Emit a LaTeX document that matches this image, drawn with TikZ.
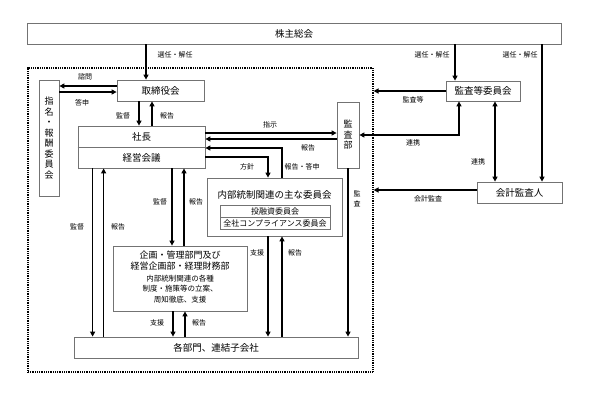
\documentclass[tikz,border=0pt]{standalone}
\usepackage{fontspec}
\setmainfont{Noto Sans CJK JP}
\usetikzlibrary{arrows.meta}
\begin{document}
\begin{tikzpicture}[x=1pt,y=-1pt,
  box/.style={draw=black!55, line width=0.8pt, inner sep=0pt, font=\fontsize{9.5}{11}\selectfont},
  arr/.style={line width=1.7pt, -{Triangle[length=5pt,width=5pt]}},
  darr/.style={line width=1.7pt, {Triangle[length=5pt,width=5pt]}-{Triangle[length=5pt,width=5pt]}},
  lbl/.style={font=\fontsize{7}{8}\selectfont, inner sep=0pt},
  vtext/.style={align=center, font=\fontsize{9}{10.5}\selectfont}]
\useasboundingbox (0,0) rectangle (609,392);
\fill[white] (0,0) rectangle (609,392);
% frame
\node[draw, line width=1.1pt, dash pattern=on 0.8pt off 1pt, minimum width=345pt, minimum height=304pt, inner sep=0pt] (frame) at (200.5,220) {};
% boxes
\node[box, minimum width=534pt, minimum height=21pt] (sh) at (294,33.5) {株主総会};
\node[box, minimum width=87pt, minimum height=21pt] (bd) at (160.5,90.5) {取締役会};
\node[box, minimum width=20pt, minimum height=116pt, vtext] (nom) at (49,138) {指\\名\\・\\報\\酬\\委\\員\\会};
\node[box, minimum width=127pt, minimum height=42pt] (ceo) at (141.5,147) {};
\draw[draw=black!55, line width=0.8pt] (ceo.west) -- (ceo.east);
\node[font=\fontsize{9.5}{11}\selectfont] (ceoA) at (141.5,137) {社長};
\node[font=\fontsize{9.5}{11}\selectfont] (ceoB) at (141.5,158) {経営会議};
\node[box, minimum width=22pt, minimum height=66pt, vtext] (aud) at (348,135) {監\\査\\部};
\node[box, minimum width=135pt, minimum height=58pt] (ic) at (274.5,207) {};
\node[font=\fontsize{9.5}{11}\selectfont] (icT) at (274.5,195) {内部統制関連の主な委員会};
\node[box, minimum width=110pt, minimum height=12pt, font=\fontsize{8}{9}\selectfont] (ic1) at (275,211) {投融資委員会};
\node[box, minimum width=110pt, minimum height=12pt, font=\fontsize{8}{9}\selectfont] (ic2) at (275,223) {全社コンプライアンス委員会};
\node[box, minimum width=134pt, minimum height=65pt] (plan) at (180,278.5) {};
\node[align=center, font=\fontsize{9}{11}\selectfont] (planA) at (180,260.5) {企画・管理部門及び\\経営企画部・経理財務部};
\node[align=center, font=\fontsize{7.5}{10.5}\selectfont] (planB) at (180,289) {内部統制関連の各種\\制度・施策等の立案、\\周知徹底、支援};
\node[box, minimum width=284pt, minimum height=21pt] (div) at (216,347.5) {各部門、連結子会社};
\node[box, minimum width=74pt, minimum height=20pt] (ac) at (483,91) {監査等委員会};
\node[box, minimum width=85pt, minimum height=21pt] (ext) at (519.5,192.5) {会計監査人};
% arrows
\draw[arr] ([xshift=-14.5pt]bd.north |- sh.south) -- ([xshift=-14.5pt]bd.north);
\draw[arr] ([yshift=4.5pt]bd.west) -- ([yshift=4.5pt]bd.west -| nom.east);
\draw[arr] ([yshift=-1.5pt]bd.west -| nom.east) -- ([yshift=-1.5pt]bd.west);
\draw[arr] ([xshift=-21.5pt]bd.south) -- ([xshift=-21.5pt]bd.south |- ceo.north);
\draw[arr] ([xshift=-8.5pt]bd.south |- ceo.north) -- ([xshift=-8.5pt]bd.south);
\draw[arr] ([yshift=14pt]ceo.east) -- ([yshift=14pt]ceo.east -| aud.west);
\draw[arr] ([yshift=8pt]ceo.east -| aud.west) -- ([yshift=8pt]ceo.east);
\draw[arr] ([xshift=7.5pt]ic.north) |- ([yshift=-1pt]ceo.east);
\draw[arr] ([yshift=-10pt]ceo.east) -| ([xshift=-6.5pt]ic.north);
\draw[arr] (aud.south) -- (aud.south |- div.north);
\draw[arr] ([xshift=15pt]ceo.south west) -- ([xshift=15pt]ceo.south west |- div.north);
\draw[arr] ([xshift=26pt]ceo.south west |- div.north) -- ([xshift=26pt]ceo.south west);
\draw[arr] ([xshift=-8pt]plan.north |- ceo.south) -- ([xshift=-8pt]plan.north);
\draw[arr] ([xshift=4pt]plan.north) -- ([xshift=4pt]plan.north |- ceo.south);
\draw[arr] ([xshift=-7pt]plan.south) -- ([xshift=-7pt]plan.south |- div.north);
\draw[arr] ([xshift=5pt]plan.south |- div.north) -- ([xshift=5pt]plan.south);
\draw[arr] ([xshift=-6.5pt]ic.south) -- ([xshift=-6.5pt]ic.south |- div.north);
\draw[arr] ([xshift=7.5pt]ic.south |- div.north) -- ([xshift=7.5pt]ic.south);
\draw[arr] ([xshift=-28pt]ac.north |- sh.south) -- ([xshift=-28pt]ac.north);
\draw[arr] ([xshift=22.5pt]ext.north |- sh.south) -- ([xshift=22.5pt]ext.north);
\draw[arr] (ac.west) -- (ac.west -| frame.east);
\draw[darr] (aud.east) -| ([xshift=-24pt]ac.south);
\draw[darr] ([xshift=12pt]ac.south) -- ([xshift=12pt]ac.south |- ext.north);
\draw[arr] ([yshift=2.5pt]ext.west) -- ([yshift=2.5pt]ext.west -| frame.east);
% labels
\node[lbl] (l1) at (175,55) {選任・解任};
\node[lbl] (l2) at (432,55) {選任・解任};
\node[lbl] (l3) at (520,55) {選任・解任};
\node[lbl] (l4) at (85,77) {諮問};
\node[lbl] (l5) at (82,103) {答申};
\node[lbl] (l6) at (123,116) {監督};
\node[lbl] (l7) at (167,116) {報告};
\node[lbl] (l8) at (270,125) {指示};
\node[lbl] (l9) at (308,148) {報告};
\node[lbl] (l10) at (247,167) {方針};
\node[lbl] (l11) at (302,167) {報告・答申};
\node[lbl, align=center, font=\fontsize{7}{10}\selectfont] (l12) at (357,199) {監\\査};
\node[lbl] (l13) at (413,100) {監査等};
\node[lbl] (l14) at (413,143) {連携};
\node[lbl] (l15) at (478,162) {連携};
\node[lbl] (l16) at (428,199) {会計監査};
\node[lbl] (l17) at (77,227) {監督};
\node[lbl] (l18) at (118,227) {報告};
\node[lbl] (l19) at (160,202) {監督};
\node[lbl] (l20) at (196,202) {報告};
\node[lbl] (l21) at (257,253) {支援};
\node[lbl] (l22) at (295,253) {報告};
\node[lbl] (l23) at (157,323) {支援};
\node[lbl] (l24) at (199,323) {報告};
\end{tikzpicture}
\end{document}
